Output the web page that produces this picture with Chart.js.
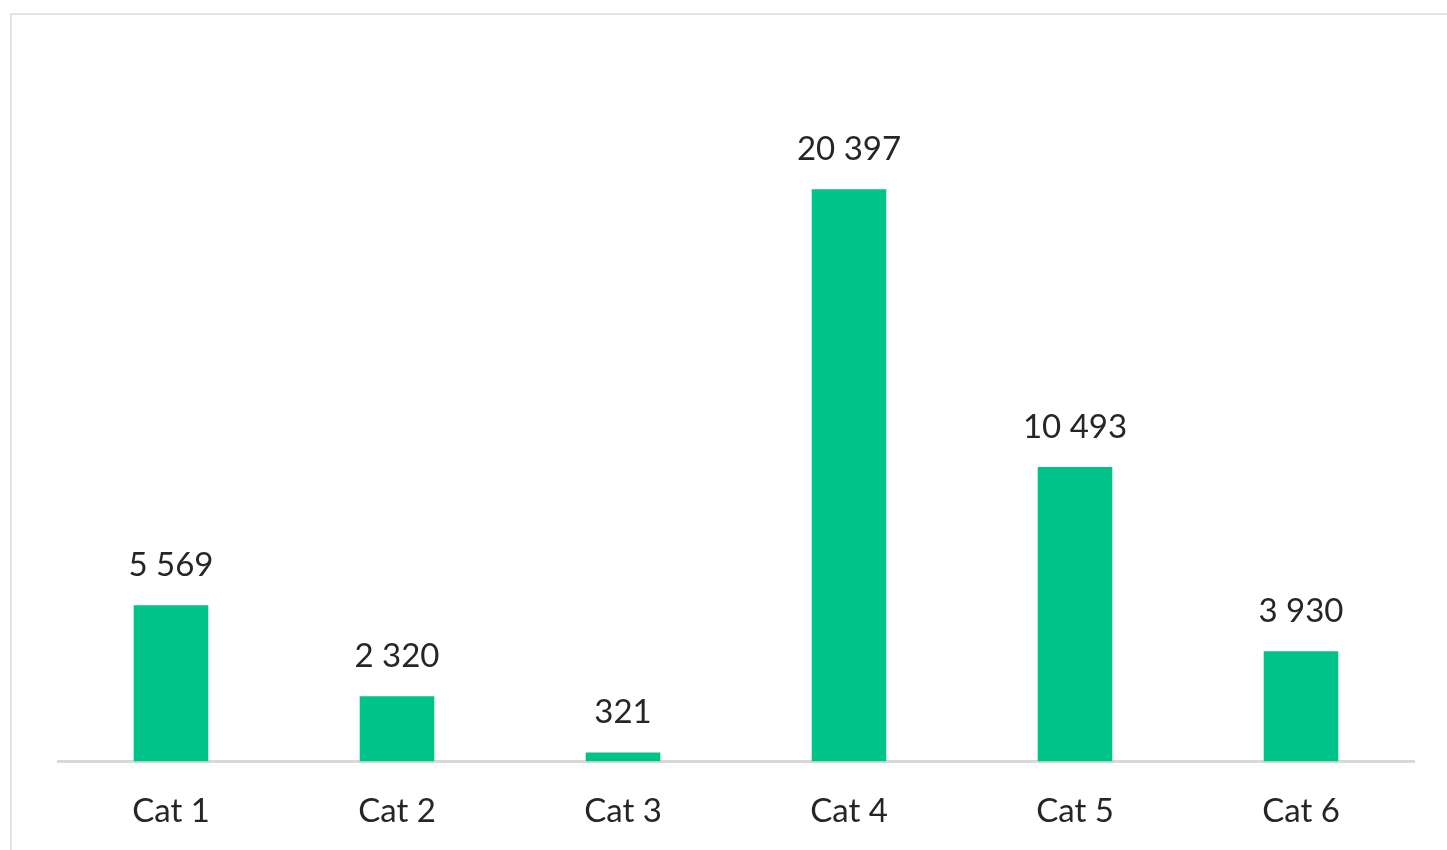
<!DOCTYPE html>
<html>
<head>
<meta charset="utf-8">
<script src="https://cdn.jsdelivr.net/npm/chart.js@4.4.1/dist/chart.umd.min.js"></script>
<style>
  body { margin: 0; background: #fff; overflow: hidden; }
  #frame {
    position: absolute; left: 10px; top: 13px;
    width: 1600px; height: 1000px;
    border: 2px solid #e3e3e3;
  }
  /* a little taller than the window so the x axis sits where it should */
  #chart-container { position: absolute; left: 0; top: 0; width: 1447px; height: 861px; }
</style>
</head>
<body>
<div id="frame"></div>
<div id="chart-container">
  <canvas id="chart"></canvas>
</div>
<script>
// data
var categories = ['Cat 1', 'Cat 2', 'Cat 3', 'Cat 4', 'Cat 5', 'Cat 6'];
var values = [5569, 2320, 321, 20397, 10493, 3930];
var yMax = 25000;

var textColor = '#262626';
var labelFont = { family: 'Lato, "Open Sans", sans-serif', size: 33 };

// space as thousands separator, like "20 397"
function fmt(n) {
  return n.toString().replace(/\B(?=(\d{3})+(?!\d))/g, ' ');
}

// simple value labels above the bars
var valueLabels = {
  id: 'valueLabels',
  afterDatasetsDraw: function(chart) {
    var ctx = chart.ctx;
    var meta = chart.getDatasetMeta(0);
    ctx.save();
    ctx.fillStyle = textColor;
    ctx.font = labelFont.size + 'px ' + labelFont.family;
    ctx.textAlign = 'center';
    ctx.textBaseline = 'middle';
    meta.data.forEach(function(bar, i) {
      ctx.fillText(fmt(chart.data.datasets[0].data[i]), bar.x, bar.y - 40);
    });
    ctx.restore();
  }
};

var ctx = document.getElementById('chart').getContext('2d');
var chart = new Chart(ctx, {
  type: 'bar',
  data: {
    labels: categories,
    datasets: [{
      data: values,
      backgroundColor: '#00c389',
      borderWidth: 0,
      barPercentage: 0.33,
      categoryPercentage: 1
    }]
  },
  options: {
    responsive: true,
    maintainAspectRatio: false,
    animation: false,
    layout: { padding: { left: 58, right: 33, top: 60, bottom: 0 } },
    plugins: {
      legend: { display: false },
      tooltip: { enabled: false }
    },
    scales: {
      x: {
        grid: { display: false, drawTicks: false },
        border: { display: true, color: '#d9d9d9', width: 3 },
        ticks: { color: textColor, font: labelFont, padding: 30 }
      },
      y: {
        display: false,
        min: 0,
        max: yMax
      }
    }
  },
  plugins: [valueLabels]
});
</script>
</body>
</html>
